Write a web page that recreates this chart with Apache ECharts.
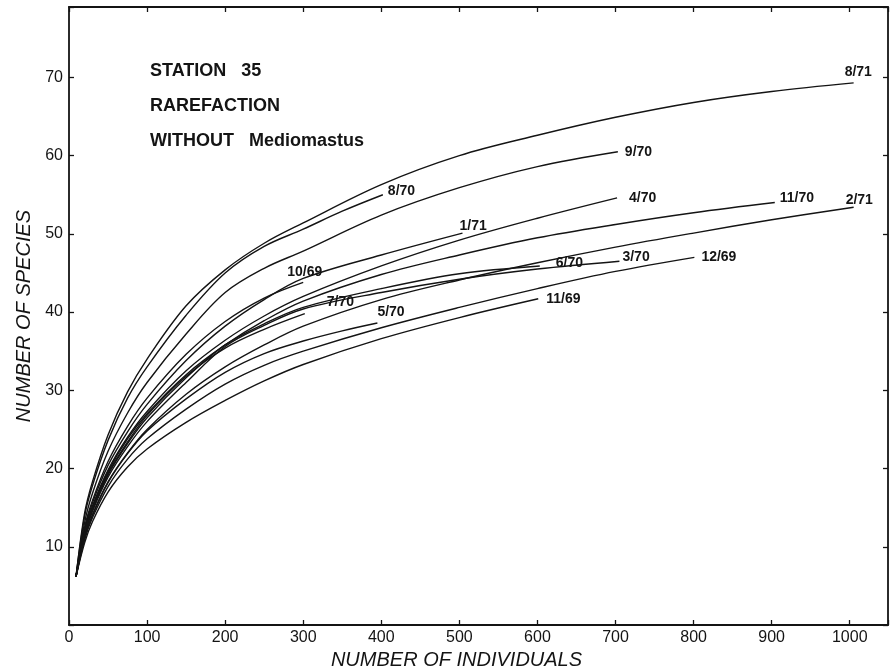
<!DOCTYPE html>
<html>
<head>
<meta charset="utf-8">
<script src="https://cdn.jsdelivr.net/npm/echarts@6/dist/echarts.min.js"></script>
<style>
html,body{margin:0;padding:0;background:#fff;}
#chart{width:896px;height:669px;}
</style>
</head>
<body>
<div id="chart"></div>
<script>
// ---- Data ----
const xTicks = [0, 100, 200, 300, 400, 500, 600, 700, 800, 900, 1000];
const yTicks = [10, 20, 30, 40, 50, 60, 70];
const seriesNames = ['8/71','8/70','9/70','1/71','10/69','4/70','11/70','2/71','6/70','3/70','7/70','5/70','12/69','11/69'];

const n_8_71 = [9,20,30,50,75,100,150,200,250,300,400,500,600,700,800,900,1005];
const s_8_71 = [6.2,14.3,18.3,24.3,29.8,34.0,40.8,45.4,48.8,51.4,56.3,60.0,62.6,64.9,66.8,68.2,69.3];

const n_8_70 = [9,20,30,50,75,100,150,200,250,300,350,402];
const s_8_70 = [6.2,13.9,17.8,23.6,29.0,33.0,39.6,45.0,48.4,50.6,52.9,55.0];

const n_9_70 = [9,20,30,50,75,100,150,200,250,300,400,500,600,703];
const s_9_70 = [6.2,13.1,16.8,22.2,27.1,31.0,37.2,42.5,45.6,47.8,52.4,55.9,58.6,60.5];

const n_1_71 = [9,20,30,50,75,100,150,200,250,300,400,504];
const s_1_71 = [6.2,12.3,15.6,20.4,24.7,28.2,33.8,38.2,41.6,44.3,47.3,50.1];

const n_10_69 = [9,20,30,50,75,100,150,200,250,300];
const s_10_69 = [6.2,12.5,15.9,20.9,25.4,29.0,34.6,38.8,41.8,43.8];

const n_4_70 = [9,20,30,50,75,100,150,200,250,300,400,500,600,702];
const s_4_70 = [6.2,12.0,15.2,19.8,24.0,27.3,32.5,36.4,39.5,42.0,45.9,49.2,52.0,54.6];

const n_11_70 = [9,20,30,50,75,100,150,200,250,300,400,500,600,700,800,904];
const s_11_70 = [6.2,11.8,15.0,19.6,23.8,27.0,32.0,35.8,38.9,41.4,44.8,47.3,49.5,51.2,52.7,54.0];

const n_2_71 = [9,20,30,50,75,100,150,200,250,300,400,500,600,700,800,900,1005];
const s_2_71 = [6.2,11.2,14.1,18.3,22.0,25.0,29.5,33.0,35.8,38.2,41.6,44.1,46.3,48.3,50.1,51.8,53.4];

const n_6_70 = [9,20,30,50,75,100,150,200,250,300,400,500,603];
const s_6_70 = [6.2,11.6,14.7,19.2,23.2,26.5,31.6,35.8,38.5,40.6,43.0,44.9,45.9];

const n_3_70 = [9,20,30,50,75,100,150,200,250,300,400,500,600,705];
const s_3_70 = [6.2,11.4,14.5,18.9,22.8,26.0,31.0,35.6,38.3,40.4,42.5,44.2,45.5,46.5];

const n_7_70 = [9,20,30,50,75,100,150,200,250,302];
const s_7_70 = [6.2,11.7,14.9,19.4,23.4,26.8,31.8,35.4,37.8,39.8];

const n_5_70 = [9,20,30,50,75,100,150,200,250,300,350,395];
const s_5_70 = [6.2,11.1,14.0,18.2,21.9,24.8,28.9,32.3,34.7,36.3,37.6,38.6];

const n_12_69 = [9,20,30,50,75,100,150,200,250,300,400,500,600,700,801];
const s_12_69 = [6.2,10.9,13.7,17.7,21.2,23.8,27.6,30.8,33.2,35.0,38.0,40.6,43.0,45.2,47.0];

const n_11_69 = [9,20,30,50,75,100,150,200,250,300,400,500,601];
const s_11_69 = [6.2,10.5,13.2,17.0,20.2,22.5,25.9,28.7,31.2,33.3,36.6,39.3,41.7];

const seriesData = {
  '8/71':[n_8_71,s_8_71], '8/70':[n_8_70,s_8_70], '9/70':[n_9_70,s_9_70],
  '1/71':[n_1_71,s_1_71], '10/69':[n_10_69,s_10_69], '4/70':[n_4_70,s_4_70],
  '11/70':[n_11_70,s_11_70], '2/71':[n_2_71,s_2_71], '6/70':[n_6_70,s_6_70],
  '3/70':[n_3_70,s_3_70], '7/70':[n_7_70,s_7_70], '5/70':[n_5_70,s_5_70],
  '12/69':[n_12_69,s_12_69], '11/69':[n_11_69,s_11_69]
};

// ---- Styling (label offsets relative to line ends) ----
const labelOffsets = {
  '8/71':[-9,-11], '8/70':[5,-4], '9/70':[7,0], '1/71':[-3,-7], '10/69':[-16,-10],
  '4/70':[12,0], '11/70':[5,-4], '2/71':[-8,-7], '6/70':[16,-3], '3/70':[3,-4],
  '7/70':[22,-12], '5/70':[0,-11], '12/69':[7,0], '11/69':[8,0]
};

const INK = '#141414';
const FONT = '"Liberation Sans", Arial, sans-serif';

const series = seriesNames.map(name => {
  const [ns, ss] = seriesData[name];
  return {
    name: name,
    type: 'line',
    xAxisIndex: 0, yAxisIndex: 0,
    data: ns.map((n, i) => [n, ss[i]]),
    showSymbol: false,
    symbol: 'none',
    smooth: 0.35,
    silent: true,
    lineStyle: { color: INK, width: 1.4 },
    endLabel: {
      show: true,
      formatter: name,
      distance: 0,
      offset: labelOffsets[name],
      color: INK,
      fontFamily: FONT,
      fontSize: 14,
      fontWeight: 'bold'
    }
  };
});

function frameAxis(pos) {
  return {
    type: 'value', position: pos,
    axisLine: { show: true, onZero: false, lineStyle: { color: INK, width: 1.8 } },
    axisTick: { show: true, inside: true, length: 5, lineStyle: { color: INK, width: 1.3 } },
    axisLabel: { show: false }, splitLine: { show: false }
  };
}

const chart = echarts.init(document.getElementById('chart'), null, { renderer: 'canvas' });
chart.setOption({
  animation: false,
  backgroundColor: '#ffffff',
  grid: { left: 69, right: 8, top: 7, bottom: 44, containLabel: false, outerBoundsMode: 'none' },
  xAxis: [
    {
      type: 'value', min: 0, max: 1049, interval: 100, position: 'bottom',
      axisLine: { show: true, onZero: false, lineStyle: { color: INK, width: 1.8 } },
      axisTick: { show: true, inside: true, length: 5, lineStyle: { color: INK, width: 1.3 } },
      axisLabel: {
        margin: 5, color: INK, fontFamily: FONT, fontSize: 16,
        formatter: v => (xTicks.indexOf(v) >= 0 ? String(v) : '')
      },
      splitLine: { show: false },
      name: 'NUMBER OF INDIVIDUALS', nameLocation: 'middle', nameGap: 21,
      nameTextStyle: { color: INK, fontFamily: FONT, fontSize: 20, fontStyle: 'italic', padding: [0, 44, 0, 0] }
    },
    Object.assign(frameAxis('top'), { min: 0, max: 1049, interval: 100 })
  ],
  yAxis: [
    {
      type: 'value', min: 0, max: 79, interval: 10, position: 'left',
      axisLine: { show: true, onZero: false, lineStyle: { color: INK, width: 1.8 } },
      axisTick: { show: true, inside: true, length: 5, lineStyle: { color: INK, width: 1.3 } },
      axisLabel: {
        margin: 6, color: INK, fontFamily: FONT, fontSize: 16,
        formatter: v => (yTicks.indexOf(v) >= 0 ? String(v) : '')
      },
      splitLine: { show: false },
      name: 'NUMBER OF SPECIES', nameLocation: 'middle', nameGap: 26,
      nameTextStyle: { color: INK, fontFamily: FONT, fontSize: 20, fontStyle: 'italic' }
    },
    Object.assign(frameAxis('right'), { min: 0, max: 79, interval: 10 })
  ],
  graphic: [
    { type: 'text', left: 150, top: 62, style: { text: 'STATION   35', fill: INK, font: 'bold 18px "Liberation Sans", Arial, sans-serif' } },
    { type: 'text', left: 150, top: 97, style: { text: 'RAREFACTION', fill: INK, font: 'bold 18px "Liberation Sans", Arial, sans-serif' } },
    { type: 'text', left: 150, top: 132, style: { text: 'WITHOUT   Mediomastus', fill: INK, font: 'bold 18px "Liberation Sans", Arial, sans-serif' } }
  ],
  series: series
});
</script>
</body>
</html>
